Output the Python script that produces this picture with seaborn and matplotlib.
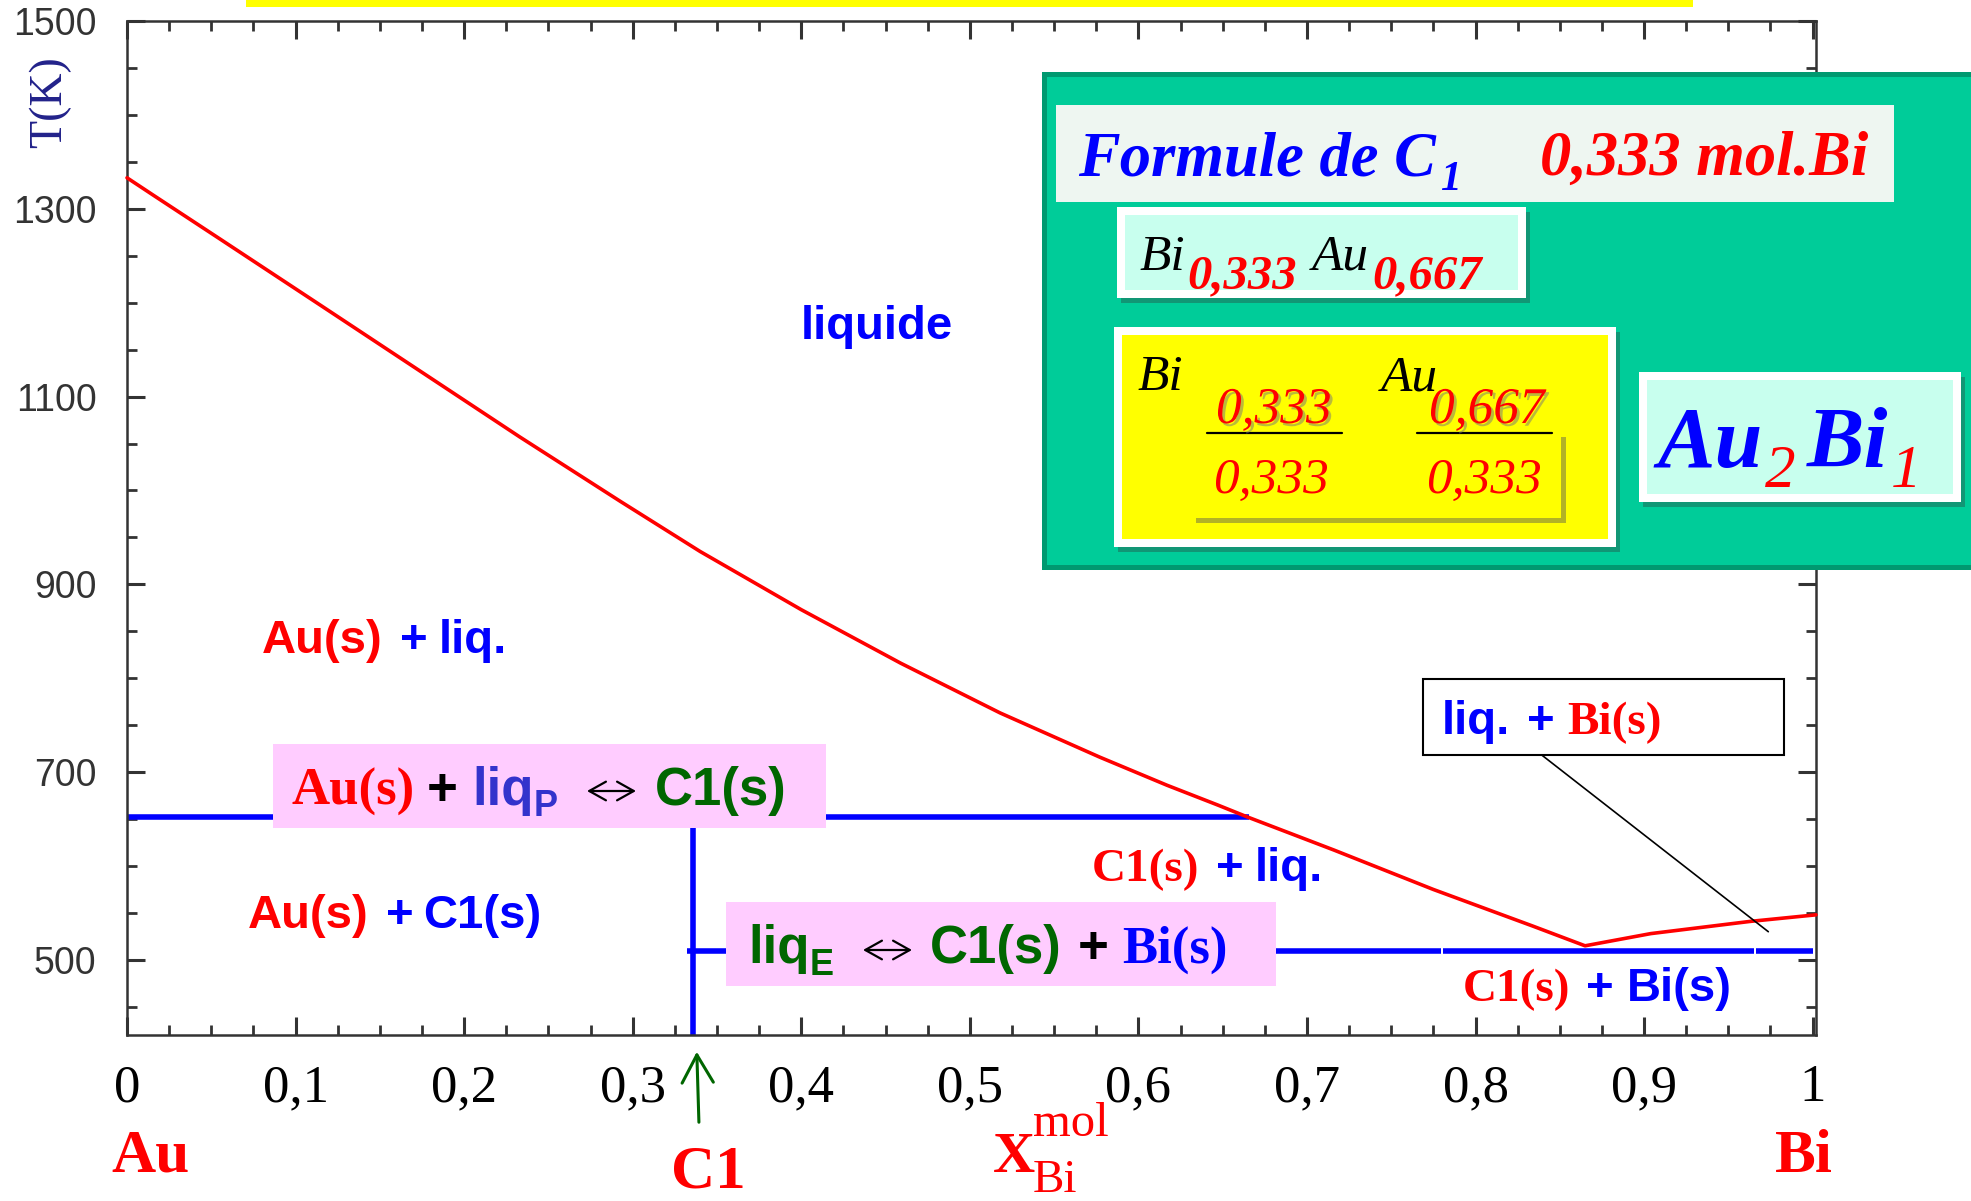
import numpy as np
import pandas as pd
import matplotlib
matplotlib.use("Agg")
import matplotlib.pyplot as plt
import seaborn as sns
from matplotlib.patches import Rectangle, FancyArrowPatch
from matplotlib.lines import Line2D
from matplotlib.ticker import MultipleLocator
import matplotlib.patheffects as pe

# ---------------- data ----------------
liquidus_x = [0.0, 0.016, 0.055, 0.115, 0.174, 0.233, 0.293, 0.340, 0.400,
              0.459, 0.518, 0.577, 0.617, 0.647, 0.665, 0.716, 0.775, 0.834, 0.865,
              0.904, 0.963, 1.002]
liquidus_T = [1333, 1314, 1268, 1197, 1127, 1057, 988, 935, 873,
              816, 763, 716, 686, 665, 652, 617, 575, 536, 515,
              528, 541, 548]

peritectic_x = [0.0, 0.6654]
peritectic_T = [652, 652]
compound_x = [0.3355, 0.3355]
compound_T = [420, 652]
eutectic_seg = [0, 0, 1, 1, 2, 2]
eutectic_x = [0.332, 0.7795, 0.7808, 0.9650, 0.9663, 1.0003]
eutectic_T = [510, 510, 510, 510, 510, 510]

x_ticks = [0.0, 0.1, 0.2, 0.3, 0.4, 0.5, 0.6, 0.7, 0.8, 0.9, 1.0]
x_ticklabels = ["0", "0,1", "0,2", "0,3", "0,4", "0,5", "0,6", "0,7", "0,8", "0,9", "1"]
y_ticks = [500, 700, 900, 1100, 1300, 1500]
y_ticklabels = ["500", "700", "900", "1100", "1300", "1500"]

# ---------------- style ----------------
sns.set_theme(style="ticks")
plt.rcParams["font.family"] = ["Liberation Sans", "DejaVu Sans"]

RED = "#FF0000"
BLUE = "#0000FF"
GREEN = "#006600"
PURPLEBLUE = "#3333CC"
SANS = "Liberation Sans"
SERIF = "Liberation Serif"

W, H = 1971, 1201
fig = plt.figure(figsize=(W / 100, H / 100), dpi=100)
fig.patch.set_facecolor("white")

L, R, TOP, BOT = 127, 1816, 21, 1035
ax = fig.add_axes([L / W, 1 - BOT / H, (R - L) / W, (BOT - TOP) / H])

sns.lineplot(x=liquidus_x, y=liquidus_T, ax=ax, color=RED, lw=2.6,
             sort=False, estimator=None, clip_on=False, zorder=3)
sns.lineplot(x=peritectic_x, y=peritectic_T, ax=ax, color=BLUE, lw=4.0,
             sort=False, estimator=None, solid_capstyle="butt", zorder=2)
sns.lineplot(x=compound_x, y=compound_T, ax=ax, color=BLUE, lw=4.0,
             sort=False, estimator=None, solid_capstyle="butt", zorder=2)
eut_df = pd.DataFrame({"x": eutectic_x, "T": eutectic_T, "seg": eutectic_seg})
sns.lineplot(data=eut_df, x="x", y="T", units="seg", estimator=None, ax=ax,
             color=BLUE, lw=4.0, sort=False, solid_capstyle="butt", zorder=2)

ax.set_xlim(0, 1.002)
ax.set_ylim(420, 1500)
ax.set_xlabel("")
ax.set_ylabel("")
ax.set_xticks(x_ticks)
ax.set_xticklabels(x_ticklabels, fontfamily=SERIF, fontsize=38, color="black")
ax.xaxis.set_minor_locator(MultipleLocator(0.025))
ax.set_yticks(y_ticks)
ax.set_yticklabels(y_ticklabels, fontfamily=SANS, fontsize=27, color="#333333")
ax.yaxis.set_minor_locator(MultipleLocator(50))
ax.tick_params(axis="both", which="both", direction="in", top=True, right=True,
               color="#333333")
ax.tick_params(which="major", length=13, width=2.2)
ax.tick_params(which="minor", length=7, width=2.0)
ax.tick_params(axis="x", which="major", pad=21)
ax.tick_params(axis="y", which="major", pad=22)
for s in ax.spines.values():
    s.set_linewidth(1.8)
    s.set_color("#333333")
ax.grid(False)


# ---------------- helpers (figure pixel coords, origin top-left) ----------------
def fx(px):
    return px / W


def fy(py):
    return 1 - py / H


def rect(x0, y0, x1, y1, fc, ec="none", lw=0.0, z=5, alpha=1.0):
    r = Rectangle((fx(x0), fy(y1)), fx(x1) - fx(x0), fy(y0) - fy(y1),
                  transform=fig.transFigure, facecolor=fc, edgecolor=ec,
                  linewidth=lw, zorder=z, alpha=alpha)
    fig.add_artist(r)
    return r


def line(x0, y0, x1, y1, color="black", lw=1.0, z=8):
    l = Line2D([fx(x0), fx(x1)], [fy(y0), fy(y1)], transform=fig.transFigure,
               color=color, lw=lw, zorder=z)
    fig.add_artist(l)


def dbl_arrow(x0, x1, y, color="black"):
    a = FancyArrowPatch((fx(x0), fy(y)), (fx(x1), fy(y)), transform=fig.transFigure,
                        arrowstyle="<->,head_length=0.5,head_width=0.28",
                        mutation_scale=24, color=color, lw=1.6, zorder=10,
                        shrinkA=0, shrinkB=0)
    fig.add_artist(a)


def txt(x, y, s, color, size, fam=SANS, weight="bold", style="normal", z=10,
        shadow=False, **kw):
    t = fig.text(fx(x), fy(y), s, color=color, fontsize=size, family=fam,
                 weight=weight, style=style, ha="left", va="baseline",
                 zorder=z, **kw)
    if shadow:
        t.set_path_effects([pe.SimplePatchShadow(offset=(2, -2), shadow_rgbFace="#777777",
                                                 alpha=0.5), pe.Normal()])
    return t


def boxed(x0, y0, x1, y1, inner, border=8, shadow=True):
    if shadow:
        rect(x0 + 4, y0 + 5, x1 + 4, y1 + 5, "#333333", z=5, alpha=0.35)
    rect(x0, y0, x1, y1, "white", z=5)
    rect(x0 + border, y0 + border, x1 - border, y1 - border, inner, z=5)


# top yellow strip
rect(246, 0, 1693, 7, "#FFFF00", z=5)

# y label
fig.text(fx(50), fy(102), "T(K)", rotation=90, ha="center", va="center",
         family=SERIF, fontsize=33, color="#22228A", zorder=10)

# ---------------- region labels ----------------
txt(801, 339, "liquide", BLUE, 34)
txt(261.5, 653, "Au(s)", RED, 34)
txt(399.7, 653, "+", BLUE, 34)
txt(438.7, 653, "liq.", BLUE, 34)

txt(247.6, 928, "Au(s)", RED, 34)
txt(386, 928, "+", BLUE, 34)
txt(423.6, 928, "C1(s)", BLUE, 34)

txt(1092, 881, "C1(s)", RED, 34, fam=SERIF)
txt(1215.5, 881, "+", BLUE, 34)
txt(1255, 881, "liq.", BLUE, 34)

txt(1463, 1001, "C1(s)", RED, 34, fam=SERIF)
txt(1586, 1001, "+", BLUE, 34)
txt(1627, 1001, "Bi(s)", BLUE, 34)

# callout box liq. + Bi(s)
rect(1423, 679, 1784, 755, "white", ec="black", lw=1.5, z=6)
txt(1442, 734, "liq.", BLUE, 34)
txt(1527, 734, "+", BLUE, 34)
txt(1567, 734, "Bi(s)", RED, 34, fam=SERIF)
line(1541.7, 755, 1768.3, 931.7, color="black", lw=1.2)

# ---------------- invariant reaction boxes ----------------
rect(273, 744, 826, 828, "#FFCCFF", z=6)
txt(291.6, 805, "Au(s)", RED, 38, fam=SERIF)
txt(427, 805, "+", "black", 38)
txt(472.6, 805, "liq", PURPLEBLUE, 38)
txt(534, 816, "P", PURPLEBLUE, 26)
dbl_arrow(587, 636, 791)
txt(655, 805, "C1(s)", GREEN, 38)

rect(726, 902, 1276, 986, "#FFCCFF", z=6)
txt(748, 963, "liq", GREEN, 38)
txt(810, 975, "E", GREEN, 26)
dbl_arrow(863, 912, 950)
txt(930, 963, "C1(s)", GREEN, 38)
txt(1078, 963, "+", "black", 38)
txt(1122, 963, "Bi(s)", BLUE, 38, fam=SERIF)

# ---------------- axis end labels ----------------
txt(111, 1172, "Au", RED, 44, fam=SERIF)
txt(671, 1187, "C1", RED, 44, fam=SERIF)
txt(1775, 1172, "Bi", RED, 44, fam=SERIF)
txt(993, 1172, "X", RED, 42, fam=SERIF)
txt(1033, 1136, "mol", RED, 35, fam=SERIF, weight="normal")
txt(1033, 1192, "Bi", RED, 34, fam=SERIF, weight="normal")

arr = FancyArrowPatch((fx(699), fy(1125)), (fx(696.7), fy(1049)),
                      transform=fig.transFigure,
                      arrowstyle="->,head_length=0.8,head_width=0.45",
                      mutation_scale=25, color=GREEN, lw=2.2, zorder=9)
fig.add_artist(arr)

# ---------------- green panel ----------------
rect(1042, 72, 1975, 570, "#009970", z=5)
rect(1047, 77, 1975, 565, "#00CC99", z=5)

rect(1056, 105, 1894, 202, "#EEF6F1", z=5)
txt(1078, 175, "Formule de C", BLUE, 45, fam=SERIF, style="italic")
txt(1440, 190, "1", BLUE, 30, fam=SERIF, style="italic")
txt(1540, 175, "0,333 mol.Bi", RED, 45, fam=SERIF, style="italic")

boxed(1117, 207, 1526, 298, "#C8FFEE")
txt(1140, 270, "Bi", "black", 37, fam=SERIF, weight="normal", style="italic")
txt(1187, 288, "0,333", RED, 35, fam=SERIF, style="italic")
txt(1312, 270, "Au", "black", 37, fam=SERIF, weight="normal", style="italic")
txt(1372, 288, "0,667", RED, 35, fam=SERIF, style="italic")

boxed(1114, 327, 1616, 547, "#FFFF00")
rect(1196, 437, 1566, 523, "#555555", z=5, alpha=0.45)
rect(1192, 433, 1561, 518, "#FFFF00", z=5)
txt(1138, 390, "Bi", "black", 37, fam=SERIF, weight="normal", style="italic")
txt(1381, 390, "Au", "black", 37, fam=SERIF, weight="normal", style="italic")
txt(1216, 423, "0,333", RED, 37, fam=SERIF, weight="normal", style="italic", shadow=True)
txt(1429, 423, "0,667", RED, 37, fam=SERIF, weight="normal", style="italic", shadow=True)
line(1207, 433, 1342, 433, color="black", lw=1.6, z=9)
line(1417, 433, 1552, 433, color="black", lw=1.6, z=9)
txt(1213, 493, "0,333", RED, 37, fam=SERIF, weight="normal", style="italic")
txt(1426, 493, "0,333", RED, 37, fam=SERIF, weight="normal", style="italic")

boxed(1639, 372, 1961, 502, "#C8FFEE")
txt(1657, 467, "Au", BLUE, 62, fam=SERIF, style="italic")
txt(1765, 487, "2", RED, 44, fam=SERIF, weight="normal", style="italic")
txt(1807, 467, "Bi", BLUE, 62, fam=SERIF, style="italic")
txt(1891, 487, "1", RED, 44, fam=SERIF, weight="normal", style="italic")

fig.savefig("out.png", dpi=100, facecolor="white")
